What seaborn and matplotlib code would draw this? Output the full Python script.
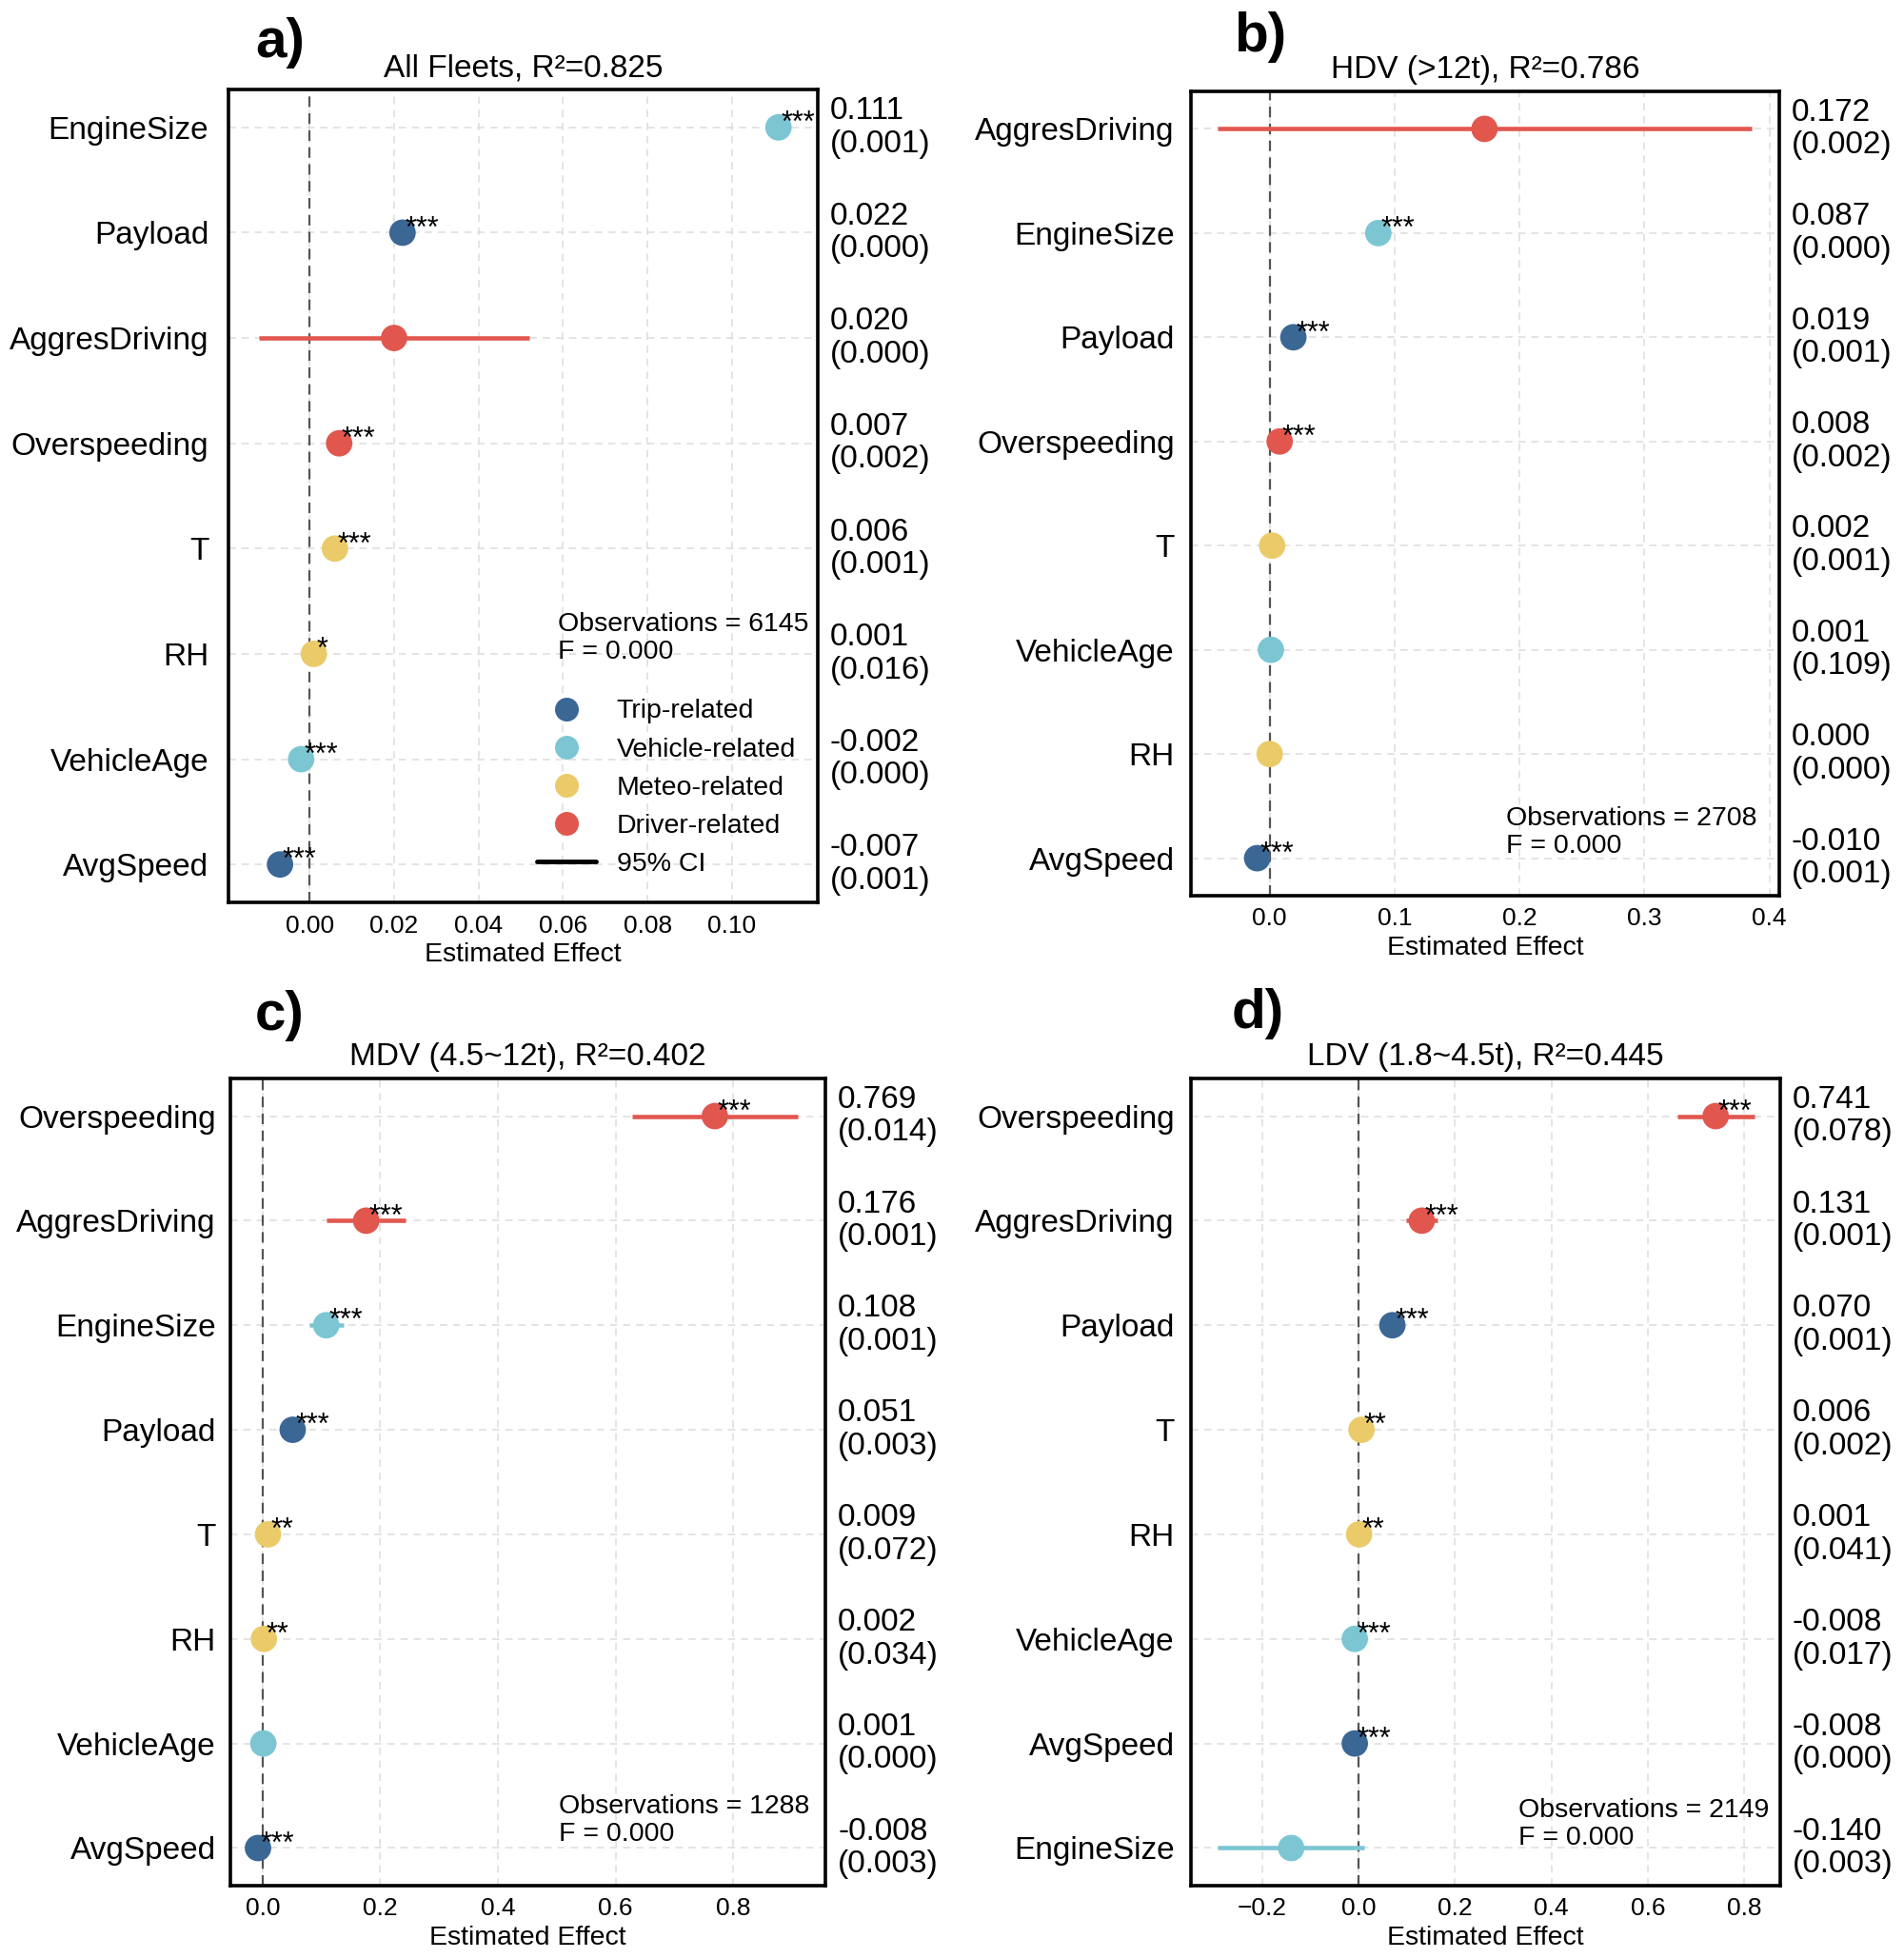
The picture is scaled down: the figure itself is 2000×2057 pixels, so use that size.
import matplotlib
matplotlib.use('Agg')
import matplotlib.pyplot as plt
import matplotlib.transforms as mtransforms
from matplotlib.lines import Line2D
import pandas as pd
import seaborn as sns

# ── DATA ──────────────────────────────────────────────────
group_of = {
    'Payload': 'Trip-related', 'AvgSpeed': 'Trip-related',
    'EngineSize': 'Vehicle-related', 'VehicleAge': 'Vehicle-related',
    'T': 'Meteo-related', 'RH': 'Meteo-related',
    'AggresDriving': 'Driver-related', 'Overspeeding': 'Driver-related',
}
group_order = ['Trip-related', 'Vehicle-related', 'Meteo-related', 'Driver-related']
palette = {
    'Trip-related': '#3B6795',
    'Vehicle-related': '#7CC6D4',
    'Meteo-related': '#EBCB69',
    'Driver-related': '#E1574E',
}

# a) All Fleets
a_vars = ['EngineSize', 'Payload', 'AggresDriving', 'Overspeeding', 'T', 'RH', 'VehicleAge', 'AvgSpeed']
a_coef = [0.111, 0.022, 0.020, 0.007, 0.006, 0.001, -0.002, -0.007]
a_pval = ['0.001', '0.000', '0.000', '0.002', '0.001', '0.016', '0.000', '0.001']
a_stars = ['***', '***', '', '***', '***', '*', '***', '***']
a_ci = [0.0025, 0.001, 0.032, 0.001, 0.001, 0.001, 0.001, 0.001]

# b) HDV
b_vars = ['AggresDriving', 'EngineSize', 'Payload', 'Overspeeding', 'T', 'VehicleAge', 'RH', 'AvgSpeed']
b_coef = [0.172, 0.087, 0.019, 0.008, 0.002, 0.001, 0.000, -0.010]
b_pval = ['0.002', '0.000', '0.001', '0.002', '0.001', '0.109', '0.000', '0.001']
b_stars = ['', '***', '***', '***', '', '', '', '***']
b_ci = [0.214, 0.004, 0.004, 0.004, 0.003, 0.003, 0.003, 0.004]

# c) MDV
c_vars = ['Overspeeding', 'AggresDriving', 'EngineSize', 'Payload', 'T', 'RH', 'VehicleAge', 'AvgSpeed']
c_coef = [0.769, 0.176, 0.108, 0.051, 0.009, 0.002, 0.001, -0.008]
c_pval = ['0.014', '0.001', '0.001', '0.003', '0.072', '0.034', '0.000', '0.003']
c_stars = ['***', '***', '***', '***', '**', '**', '', '***']
c_ci = [0.141, 0.067, 0.029, 0.010, 0.005, 0.005, 0.004, 0.004]

# d) LDV
d_vars = ['Overspeeding', 'AggresDriving', 'Payload', 'T', 'RH', 'VehicleAge', 'AvgSpeed', 'EngineSize']
d_coef = [0.741, 0.131, 0.070, 0.006, 0.001, -0.008, -0.008, -0.140]
d_pval = ['0.078', '0.001', '0.001', '0.002', '0.041', '0.017', '0.000', '0.003']
d_stars = ['***', '***', '***', '**', '**', '***', '***', '']
d_ci = [0.080, 0.032, 0.010, 0.005, 0.005, 0.005, 0.005, 0.152]

titles = ['All Fleets, R²=0.825', 'HDV (>12t), R²=0.786',
          'MDV (4.5~12t), R²=0.402', 'LDV (1.8~4.5t), R²=0.445']
observations = [6145, 2708, 1288, 2149]
f_values = ['0.000', '0.000', '0.000', '0.000']
panel_tags = ['a)', 'b)', 'c)', 'd)']

# ── STYLE ─────────────────────────────────────────────────
sns.set_style('white')
plt.rcParams['font.family'] = ['Liberation Sans', 'DejaVu Sans']
plt.rcParams['axes.unicode_minus'] = True
for key in ['text.color', 'axes.labelcolor', 'xtick.color', 'ytick.color']:
    plt.rcParams[key] = 'black'


def make_df(vars_, coef, pval, stars, ci):
    df = pd.DataFrame({'var': vars_, 'coef': coef, 'pval': pval, 'stars': stars, 'ci': ci})
    df['pos'] = range(len(df))
    df['group'] = df['var'].map(group_of)
    df['color'] = df['group'].map(palette)
    df['lo'] = df['coef'] - df['ci']
    df['hi'] = df['coef'] + df['ci']
    return df


panels = [make_df(a_vars, a_coef, a_pval, a_stars, a_ci),
          make_df(b_vars, b_coef, b_pval, b_stars, b_ci),
          make_df(c_vars, c_coef, c_pval, c_stars, c_ci),
          make_df(d_vars, d_coef, d_pval, d_stars, d_ci)]

xlims = [(-0.0192, 0.1203), (-0.063, 0.408), (-0.055, 0.957), (-0.348, 0.875)]
xticks = [[0.00, 0.02, 0.04, 0.06, 0.08, 0.10],
          [0.0, 0.1, 0.2, 0.3, 0.4],
          [0.0, 0.2, 0.4, 0.6, 0.8],
          [-0.2, 0.0, 0.2, 0.4, 0.6, 0.8]]

W, H = 2000, 2057
fig = plt.figure(figsize=(W / 100, H / 100), dpi=100)
# axes boxes in pixels: left, top, right, bottom
boxes = [(240, 94, 859, 948), (1251, 96, 1869, 941),
         (242, 1133, 867, 1981), (1251, 1133, 1870, 1981)]
obs_pos = [(0.559, 0.357), (0.536, 0.111), (0.552, 0.113), (0.556, 0.109)]
tag_pos = [(268, 18), (1296, 12), (268, 1040), (1294, 1038)]
ytick_pad = [15, 12.5, 11, 12.5]

for i, df in enumerate(panels):
    l, t, r, b = boxes[i]
    ax = fig.add_axes([l / W, 1 - b / H, (r - l) / W, (b - t) / H])
    ax.set_axisbelow(True)
    ax.grid(True, ls='--', color='#dcdcdc', lw=1.1, dashes=(5, 4))
    ax.axvline(0, color='#555555', ls='--', lw=1.6, zorder=1, dashes=(5, 3))
    ax.hlines(df['pos'], df['lo'], df['hi'], colors=df['color'], lw=3.3, zorder=2)
    sns.scatterplot(data=df, x='coef', y='pos', hue='group', hue_order=group_order,
                    palette=palette, s=400, edgecolor='none', linewidth=0,
                    legend=False, zorder=3, ax=ax)

    for _, row in df.iterrows():
        if row['stars']:
            ax.annotate(row['stars'], (row['coef'], row['pos']), xytext=(2, -3),
                        textcoords='offset points', fontsize=22, va='baseline',
                        ha='left', zorder=4)
    trans = mtransforms.blended_transform_factory(ax.transAxes, ax.transData)
    for _, row in df.iterrows():
        ax.text(1.021, row['pos'], f"{row['coef']:.3f}\n({row['pval']})",
                transform=trans, ha='left', va='center', fontsize=24,
                linespacing=1.15, clip_on=False)

    ax.set_xlim(*xlims[i])
    ax.set_ylim(7.36, -0.36)
    ax.set_xticks(xticks[i])
    ax.set_yticks(df['pos'])
    ax.set_yticklabels(df['var'])
    ax.tick_params(axis='y', labelsize=24, pad=ytick_pad[i], length=0)
    ax.tick_params(axis='x', labelsize=19, pad=9, length=0)
    ax.set_xlabel('Estimated Effect', fontsize=20.5, labelpad=4)
    ax.set_ylabel('')
    ax.set_title(titles[i], fontsize=24, pad=10)
    for sp in ax.spines.values():
        sp.set_visible(True)
        sp.set_color('black')
        sp.set_linewidth(2.6)

    ax.text(obs_pos[i][0], obs_pos[i][1],
            f"Observations = {observations[i]}\nF = {f_values[i]}",
            transform=ax.transAxes, ha='left', va='top', fontsize=20.5, linespacing=1.15)

    fig.text(tag_pos[i][0] / W, 1 - tag_pos[i][1] / H, panel_tags[i],
             fontsize=42, fontweight='bold', ha='left', va='top')

    if i == 0:
        handles = [Line2D([0], [0], marker='o', color='none', markerfacecolor=palette[g],
                          markeredgecolor='none', markersize=18, label=g) for g in group_order]
        handles.append(Line2D([0], [0], color='black', lw=3.5, label='95% CI'))
        ax.legend(handles=handles, loc='upper left', bbox_to_anchor=(0.523, 0.25),
                  frameon=False, fontsize=20.5, handlelength=2.2, handletextpad=0.75,
                  labelspacing=0.5, borderpad=0, borderaxespad=0)

plt.savefig('out.png', dpi=100)
